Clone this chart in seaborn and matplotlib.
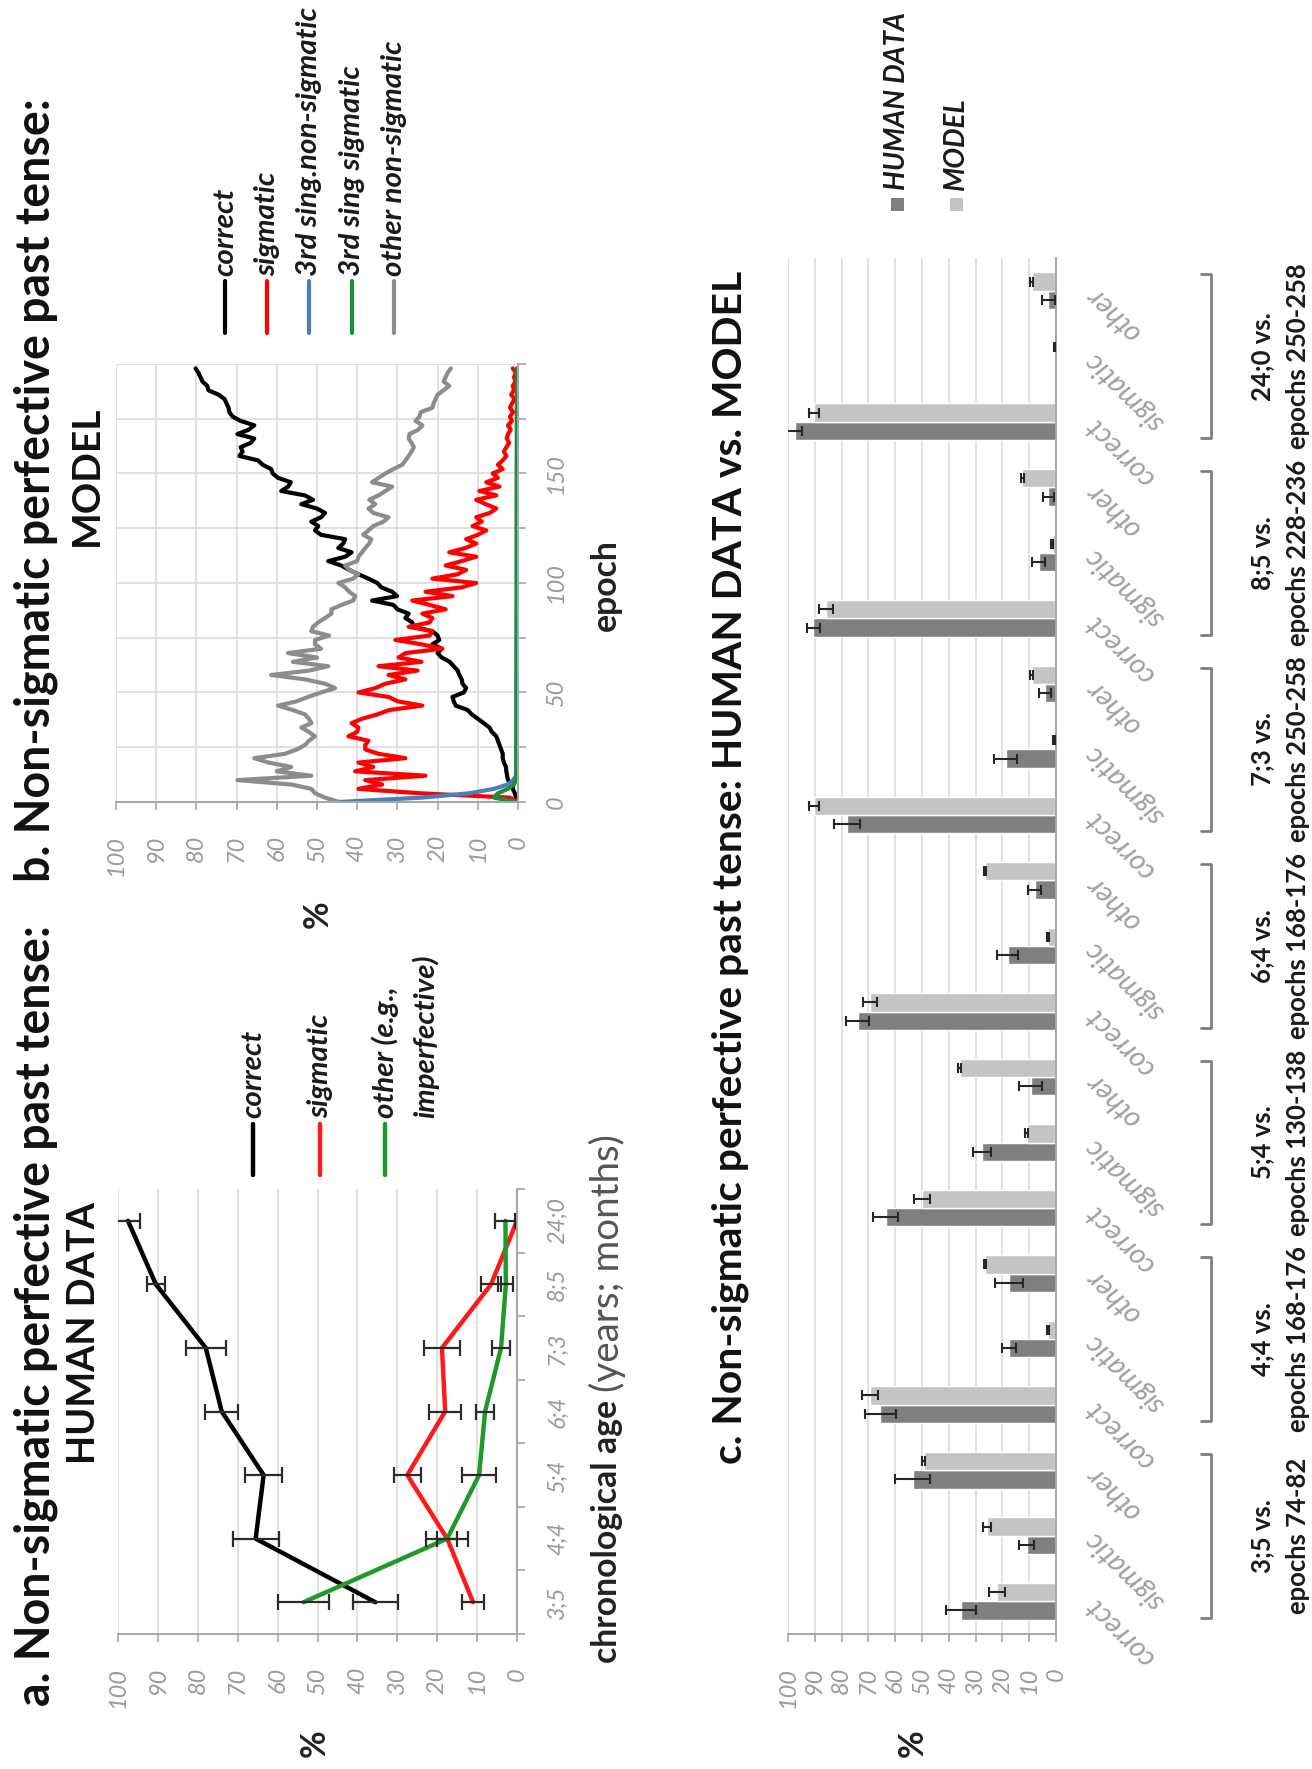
import numpy as np
import pandas as pd
import matplotlib
matplotlib.use("Agg")
import matplotlib.pyplot as plt
import matplotlib.transforms as mtransforms
from matplotlib.lines import Line2D
from matplotlib.patches import Rectangle
import seaborn as sns

sns.set_theme(style="white")
plt.rcParams['font.family'] = ['Lato', 'DejaVu Sans']

# ---------------- human data (chronological age groups) ----------------
ages = ["3;5", "4;4", "5;4", "6;4", "7;3", "8;5", "24;0"]
human_correct = [35.5, 65.5, 63.5, 74.0, 78.0, 90.5, 97.5]
human_correct_err = [5.6, 5.8, 4.7, 4.2, 5.0, 2.3, 2.9]
human_sigmatic = [11.0, 17.5, 27.5, 18.0, 18.8, 6.5, 0.0]
human_sigmatic_err = [2.8, 2.5, 3.4, 4.0, 4.4, 2.4, 0.0]
human_other = [53.5, 17.5, 9.5, 8.0, 4.0, 2.8, 2.9]
human_other_err = [6.5, 5.3, 4.2, 2.3, 2.3, 1.9, 2.5]

# ---------------- model, matched epoch windows ----------------
model_correct = [22.0, 69.5, 50.0, 69.5, 90.3, 85.8, 90.3]
model_correct_err = [3.0, 3.0, 3.0, 2.7, 1.8, 2.5, 1.8]
model_sigmatic = [25.9, 2.9, 11.0, 2.9, 0.7, 1.4, 0.6]
model_sigmatic_err = [1.5, 0.4, 0.5, 0.4, 0.3, 0.3, 0.3]
model_other = [49.3, 26.5, 35.9, 26.5, 9.1, 12.6, 9.1]
model_other_err = [0.6, 0.5, 0.5, 0.5, 0.5, 0.5, 0.5]

group_ages = ["3;5 vs.", "4;4 vs.", "5;4 vs.", "6;4 vs.", "7;3 vs.", "8;5 vs.", "24;0 vs."]
group_epochs = ["epochs 74-82", "epochs 168-176", "epochs 130-138", "epochs 168-176",
                "epochs 250-258", "epochs 228-236", "epochs 250-258"]
response_types = ["correct", "sigmatic", "other"]

# ---------------- model learning curves (every 2nd epoch) ----------------
model_epochs = list(range(0, 200, 2))
curve_correct = [0, 0.5, 0.8, 1.3, 1.3, 2.5, 2.7, 2.9, 3.0, 3.5,
                 3.8, 3.8, 4.2, 4.6, 5.0, 5.4, 6.5, 7.1, 8.5, 10,
                 11.5, 12.5, 15.5, 16, 16.3, 13.5, 12.9, 13.8, 14, 14.6,
                 15, 16, 17, 19,
                 20, 19, 21.3, 19.6, 20, 21.3, 26, 26.3, 28, 27.2,
                 30, 31, 36.3, 30.1, 31.3, 34, 35, 37.2, 39.7, 42,
                 44, 47.2, 43, 41.4, 44.7, 43.5, 43, 49, 50.5, 49.7,
                 51.4, 49, 48, 50, 53.9,
                 51, 53, 58.9, 57.2, 56.5, 59.7, 61, 61.4, 63.5, 64.7,
                 69.3, 68.5, 69, 66.5, 65.6, 69.8, 67, 65.6, 69, 71,
                 71.8, 72, 72.5, 73, 74.5, 77, 77.3, 78.5, 79, 79.5,
                 80.2]
curve_sigmatic = [0, 2, 24.6, 39.7, 33.8, 38, 23, 40.5, 36, 39.7,
                  28, 34.7, 38, 38, 37.2, 42.2, 40, 39.7, 41.4, 38.8,
                  35, 32, 23.8, 30, 32.2, 39.7, 35.5, 33, 28, 32.2,
                  25, 34.7, 24, 29.7,
                  28, 18.8, 24, 30.5, 22, 21.3, 27.2, 22, 21.3, 23.8,
                  18, 22, 26.3, 16.3, 23, 14, 10.4, 21.3, 15, 12.9,
                  18, 14, 10.4, 17.1, 13, 10.4, 12.9, 10, 7.9, 11.3,
                  9, 10.4, 7, 5.4, 8,
                  10.4, 5.4, 9.6, 4.6, 7.9, 5, 6.3, 3.8, 5, 3.8,
                  2.9, 3.5, 2.9, 2.2, 2.8, 2.5, 1.8, 2.5, 1.5, 2.0,
                  1.2, 2, 1.5, 0.8, 1.7, 1.0, 1.3, 0.6, 1.0, 0.5,
                  1.3]
curve_other = [44.5, 48, 50.5, 51.4, 56.4, 69.8, 51.4, 60, 56.4, 62,
               65.6, 58, 55, 53, 52, 50.5, 52, 53.9, 51.4, 52,
               53, 56, 59.7, 55, 52.2, 49, 45.5, 48, 53, 61.4,
               52, 47.2, 56, 50,
               57.2, 49, 50.5, 50.5, 47, 51.4, 51, 49.7, 48, 46.4,
               46.4, 43.9, 41, 40.5, 42, 43, 44.7, 41, 39.7, 42,
               43, 40, 39.7, 38.8, 38, 37, 36.5, 38.5, 37.2, 36,
               33.5, 32.2, 36, 37.2, 35.5,
               37, 34.7, 33, 31.3, 36.3, 34.7, 33, 31, 28.8, 28,
               27.2, 26.5, 25.9, 26.5, 27.2, 27, 24.8, 23.8, 25.5, 24.5,
               24.2, 21.3, 21, 20.5, 20, 18.5, 17.1, 18.5, 18, 17.5,
               16.7]
third_epochs = [0, 2, 4, 6, 8, 10, 12, 198]
curve_3rd_nonsig = [44.7, 24, 12, 6, 2.5, 1.2, 0.5, 0.2]
curve_3rd_sig = [0.3, 6, 5, 2.5, 1.0, 0.5, 0.3, 0.3]

# ---------------- figure geometry (pixels) ----------------
W, H = 1312, 1769
fig = plt.figure(figsize=(W / 100, H / 100), dpi=100)
renderer = fig.canvas.get_renderer()
PX = 72 / 100  # points per pixel


def fx(px):
    return px / W


def fy(py):
    return 1 - py / H


def axes_px(x0, y0, x1, y1):
    return fig.add_axes([fx(x0), fy(y1), (x1 - x0) / W, (y1 - y0) / H])


def fit_size(s, target, **kw):
    t = fig.text(0, 0, s, fontsize=20, **kw)
    w = t.get_window_extent(renderer).width
    t.remove()
    return 20 * target / w


TITLE_AB = fit_size("b. Non-sigmatic perfective past tense:", 786, fontweight='bold')
TITLE_M = fit_size("MODEL", 140, fontweight='bold')
TITLE_H = fit_size("HUMAN DATA", 262, fontweight='bold')
TITLE_C = fit_size("c. Non-sigmatic perfective past tense: HUMAN DATA vs. MODEL", 1194, fontweight='bold')
LEG = fit_size("3rd sing.non-sigmatic", 268, fontweight='bold', style='italic')
LEGC = fit_size("HUMAN DATA", 178, fontweight='bold', style='italic')
AXT = fit_size("chronological age", 262, fontweight='bold')
AXT_SUB = fit_size("(years; months)", 258)
GRP = fit_size("epochs 168-176", 186, fontweight='bold')
CAT = fit_size("correct", 85, style='italic')
TICK = fit_size("100", 41, style='italic')

TICK_COL = '#9a9a9a'
SPINE_COL = '#a6a6a6'
GRID_COL = '#dcdcdc'


def vtext(x, y, s, size, ha='center', **kw):
    fig.text(fx(x), fy(y), s, rotation=90, rotation_mode='anchor',
             ha=ha, va='center', fontsize=size, **kw)


def style_axes(ax):
    for side in ['top', 'left']:
        ax.spines[side].set_visible(False)
    for side in ['bottom', 'right']:
        ax.spines[side].set_color(SPINE_COL)
        ax.spines[side].set_linewidth(1.4)
    ax.set_xlim(100, 0)
    ax.set_xticks(range(0, 101, 10))
    ax.tick_params(axis='x', bottom=True, direction='out', length=8 * PX, width=1.2,
                   color=SPINE_COL, labelsize=TICK, labelcolor=TICK_COL,
                   labelrotation=90, pad=25 * PX)
    for lab in ax.get_xticklabels():
        lab.set_style('italic')
    ax.grid(True, axis='x', color=GRID_COL, linewidth=1.2)
    ax.set_axisbelow(True)
    ax.set_xlabel('')
    ax.set_ylabel('')


# ================= panel b: model learning curves =================
axb = axes_px(116, 364, 518, 802)
curves = pd.concat([
    pd.DataFrame({'epoch': model_epochs, 'pct': curve_correct, 'series': 'correct'}),
    pd.DataFrame({'epoch': model_epochs, 'pct': curve_sigmatic, 'series': 'sigmatic'}),
    pd.DataFrame({'epoch': third_epochs, 'pct': curve_3rd_nonsig, 'series': '3rd sing.non-sigmatic'}),
    pd.DataFrame({'epoch': third_epochs, 'pct': curve_3rd_sig, 'series': '3rd sing sigmatic'}),
    pd.DataFrame({'epoch': model_epochs, 'pct': curve_other, 'series': 'other non-sigmatic'}),
])
b_colors = {'correct': '#000000', 'sigmatic': '#ff0000', '3rd sing.non-sigmatic': '#4a7ebb',
            '3rd sing sigmatic': '#1a8f3a', 'other non-sigmatic': '#8c8c8c'}
b_order = ['correct', 'sigmatic', '3rd sing.non-sigmatic', '3rd sing sigmatic', 'other non-sigmatic']
sns.lineplot(data=curves, x='pct', y='epoch', hue='series', hue_order=b_order,
             palette=b_colors, orient='y', estimator=None, linewidth=3.0,
             legend=False, ax=axb)
style_axes(axb)
axb.set_ylim(0, 200)
axb.set_yticks(range(0, 201, 25))
axb.set_yticklabels(['0', '', '50', '', '100', '', '150', '', ''])
axb.yaxis.tick_right()
axb.tick_params(axis='y', right=True, left=False, direction='out', length=8 * PX, width=1.2,
                color=SPINE_COL, labelsize=TICK, labelcolor=TICK_COL, labelrotation=90,
                pad=20 * PX)
for lab in axb.get_yticklabels():
    lab.set_va('center')
    lab.set_style('italic')
axb.grid(True, axis='y', color=GRID_COL, linewidth=1.2)

# legend b
for x, lab in zip([225, 267, 309, 352, 394], b_order):
    fig.add_artist(Line2D([fx(x), fx(x)], [fy(333), fy(281)], color=b_colors[lab], lw=3.0))
    vtext(x, 276, lab, LEG, ha='left', fontweight='bold', style='italic', color='#1a1a1a')

vtext(36, 490, "b. Non-sigmatic perfective past tense:", TITLE_AB, fontweight='bold', color='#111111')
vtext(86, 476, "MODEL", TITLE_M, fontweight='bold', color='#111111')
vtext(318, 914, "%", AXT, fontweight='bold', color='#222222')
vtext(606, 585, "epoch", AXT, fontweight='bold', color='#222222')

# ================= panel a: human data by age =================
axa = axes_px(118, 1189, 517, 1634)
age_idx = list(range(len(ages)))
human = pd.concat([
    pd.DataFrame({'age': age_idx, 'pct': human_correct, 'series': 'correct'}),
    pd.DataFrame({'age': age_idx, 'pct': human_sigmatic, 'series': 'sigmatic'}),
    pd.DataFrame({'age': age_idx, 'pct': human_other, 'series': 'other'}),
])
a_colors = {'correct': '#000000', 'sigmatic': '#ff1a1a', 'other': '#1f9a2a'}
sns.lineplot(data=human, x='pct', y='age', hue='series', hue_order=['correct', 'sigmatic', 'other'],
             palette=a_colors, orient='y', estimator=None, linewidth=3.2, legend=False, ax=axa)
for vals, errs in [(human_correct, human_correct_err), (human_sigmatic, human_sigmatic_err),
                   (human_other, human_other_err)]:
    keep = [i for i, e in enumerate(errs) if e > 0]
    axa.errorbar([vals[i] for i in keep], [age_idx[i] for i in keep],
                 xerr=[errs[i] for i in keep], fmt='none', ecolor='#2b2b2b',
                 elinewidth=1.6, capsize=6, capthick=1.6, zorder=5)
style_axes(axa)
axa.set_ylim(-0.5, len(ages) - 0.5)
axa.set_yticks(age_idx)
axa.set_yticklabels(ages)
axa.set_yticks(np.arange(-0.5, len(ages), 1.0), minor=True)
axa.yaxis.tick_right()
axa.tick_params(axis='y', which='major', right=True, left=False, length=0,
                labelsize=TICK, labelcolor=TICK_COL, labelrotation=90, pad=30 * PX)
axa.tick_params(axis='y', which='minor', right=True, left=False, direction='out',
                length=8 * PX, width=1.2, color=SPINE_COL)
for lab in axa.get_yticklabels():
    lab.set_va('center')
    lab.set_style('italic')

a_legend = [(253, 'correct', 'correct'), (320, 'sigmatic', 'sigmatic'), (385, 'other (e.g.,', 'other')]
for x, lab, key in a_legend:
    fig.add_artist(Line2D([fx(x), fx(x)], [fy(1175), fy(1124)], color=a_colors[key], lw=3.2))
    vtext(x, 1118, lab, LEG, ha='left', fontweight='bold', style='italic', color='#1a1a1a')
vtext(425, 1118, "imperfective)", LEG, ha='left', fontweight='bold', style='italic', color='#1a1a1a')

vtext(36, 1316, "a. Non-sigmatic perfective past tense:", TITLE_AB, fontweight='bold', color='#111111')
vtext(84, 1333, "HUMAN DATA", TITLE_H, fontweight='bold', color='#111111')
vtext(315, 1743, "%", AXT, fontweight='bold', color='#222222')
vtext(607, 1400, "chronological age", AXT, ha='right', fontweight='bold', color='#222222')
vtext(607, 1392, "(years; months)", AXT_SUB, ha='left', color='#555555')

# ================= panel c: human vs model bars =================
axc = axes_px(788, 258, 1056, 1634)
rows = []
for g in range(len(ages)):
    h_vals = [human_correct[g], human_sigmatic[g], human_other[g]]
    m_vals = [model_correct[g], model_sigmatic[g], model_other[g]]
    for k in range(3):
        rows.append({'pos': 3 * g + k, 'value': h_vals[k], 'source': 'HUMAN DATA'})
        rows.append({'pos': 3 * g + k, 'value': m_vals[k], 'source': 'MODEL'})
bars = pd.DataFrame(rows)
c_colors = {'HUMAN DATA': '#7f7f7f', 'MODEL': '#c4c4c4'}
sns.barplot(data=bars, x='value', y='pos', hue='source', hue_order=['HUMAN DATA', 'MODEL'],
            palette=c_colors, orient='h', native_scale=True, width=0.56, errorbar=None,
            legend=False, saturation=1, ax=axc)

h_err, m_err = [], []
for g in range(len(ages)):
    h_err += [human_correct_err[g], human_sigmatic_err[g], human_other_err[g]]
    m_err += [model_correct_err[g], model_sigmatic_err[g], model_other_err[g]]
errs_by_source = {'HUMAN DATA': h_err, 'MODEL': m_err}
for cont, src in zip(axc.containers, ['HUMAN DATA', 'MODEL']):
    xs, ys, es = [], [], []
    for patch in cont.patches:
        yc = patch.get_y() + patch.get_height() / 2
        idx = int(round(yc))
        e = errs_by_source[src][idx]
        if e <= 0:
            continue
        xs.append(patch.get_width())
        ys.append(yc)
        es.append(e)
    axc.errorbar(xs, ys, xerr=es, fmt='none', ecolor='#262626', elinewidth=1.5,
                 capsize=3.5, capthick=1.5, zorder=5)

style_axes(axc)
n_pos = 3 * len(ages)
axc.set_ylim(-0.5, n_pos - 0.5)
axc.set_yticks(range(n_pos))
axc.set_yticklabels(response_types * len(ages), rotation=135, rotation_mode='anchor',
                    ha='right', va='center', fontsize=CAT, style='italic', color='#a0a0a0')
axc.yaxis.tick_right()
axc.tick_params(axis='y', right=True, left=False, length=0, pad=25)

# group brackets and labels
yblend = mtransforms.blended_transform_factory(axc.transAxes, axc.transData)
fblend = mtransforms.blended_transform_factory(fig.transFigure, axc.transData)
xb = (1211 - 788) / 268
xh = (1201 - 788) / 268
for g in range(len(ages)):
    y0, y1 = 3 * g - 0.25, 3 * g + 2.25
    axc.plot([xh, xb, xb, xh], [y0, y0, y1, y1], transform=yblend, color='#7f7f7f',
             lw=2.0, clip_on=False)
    yc = 3 * g + 1
    fig.text(fx(1262), yc, group_ages[g], transform=fblend, rotation=90,
             rotation_mode='anchor', ha='center', va='center', fontsize=GRP,
             fontweight='bold', color='#1a1a1a')
    fig.text(fx(1298), yc, group_epochs[g], transform=fblend, rotation=90,
             rotation_mode='anchor', ha='center', va='center', fontsize=GRP,
             fontweight='bold', color='#1a1a1a')

# legend c
for x, lab in [(897, 'HUMAN DATA'), (956, 'MODEL')]:
    fig.add_artist(Rectangle((fx(x - 6.5), fy(211)), 13 / W, 13 / H, transform=fig.transFigure,
                             facecolor=c_colors[lab], edgecolor='none'))
    vtext(x, 190, lab, LEGC, ha='left', fontweight='bold', style='italic', color='#1a1a1a')

vtext(730, 867, "c. Non-sigmatic perfective past tense: HUMAN DATA vs. MODEL", TITLE_C,
      fontweight='bold', color='#111111')
vtext(913, 1743, "%", AXT, fontweight='bold', color='#222222')

fig.savefig("out.png", dpi=100, facecolor='white')
